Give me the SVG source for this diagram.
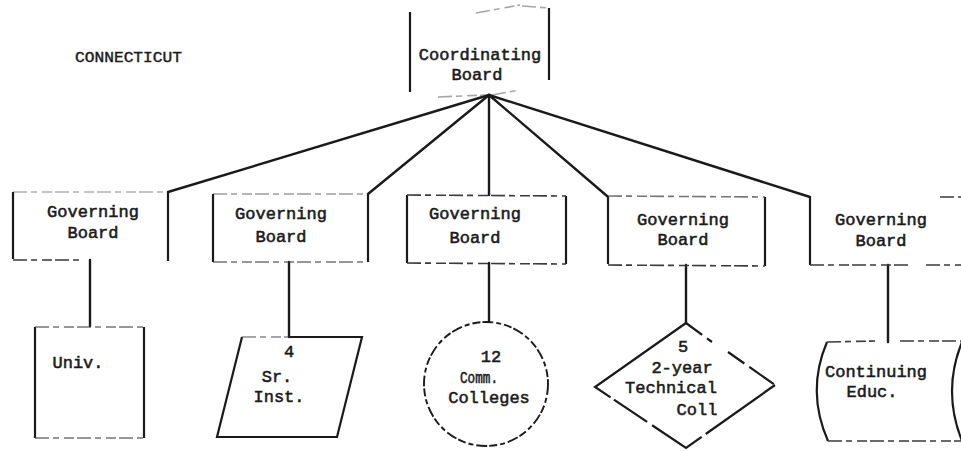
<svg xmlns="http://www.w3.org/2000/svg" width="961" height="451" viewBox="0 0 961 451">
  <style>
    .bg { fill: #ffffff; }
    .side { fill: none; stroke: #1a1a1a; stroke-width: 2.2; }
    .rule { fill: none; stroke: #3a3a3a; stroke-width: 1.6; stroke-dasharray: 14 4 6 5 10 3; }
    .conn { fill: none; stroke: #1a1a1a; stroke-width: 2.4; stroke-linecap: round; }
    .lbl { font-family: "Liberation Mono", "DejaVu Sans Mono", monospace; font-size: 17px; fill: #1a1a1a; stroke: #1a1a1a; stroke-width: 0.55; text-anchor: middle; }
    .ttl { font-family: "Liberation Mono", "DejaVu Sans Mono", monospace; font-size: 15px; fill: #1a1a1a; stroke: #1a1a1a; stroke-width: 0.4; }
  </style>

  <rect class="bg" x="0" y="0" width="961" height="451"/>

  <text class="ttl" x="75" y="62" textLength="107" lengthAdjust="spacingAndGlyphs">CONNECTICUT</text>

  <!-- connectors -->
  <g id="connectors">
    <line class="conn" x1="489" y1="95" x2="168" y2="192"/>
    <line class="conn" x1="489" y1="95" x2="368" y2="194"/>
    <line class="conn" x1="489" y1="95" x2="489" y2="195"/>
    <line class="conn" x1="489" y1="95" x2="607" y2="196"/>
    <line class="conn" x1="489" y1="95" x2="810" y2="197"/>
    <line class="conn" x1="90" y1="260" x2="90" y2="326"/>
    <line class="conn" x1="289" y1="262" x2="289" y2="337"/>
    <line class="conn" x1="489" y1="263" x2="489" y2="321"/>
    <line class="conn" x1="686" y1="265" x2="686" y2="323"/>
    <line class="conn" x1="888" y1="265" x2="888" y2="342"/>
  </g>

  <!-- top coordinating board -->
  <g id="coordinating-board">
    <line class="side" x1="410" y1="12" x2="410" y2="92"/>
    <line class="side" x1="549" y1="8" x2="549" y2="80"/>
    <path class="rule" d="M476 13 L520 5 M522 6 L549 8" stroke-opacity="0.45"/>
    <path class="rule" d="M438 97 L486 95 M492 95 L520 90" stroke-opacity="0.45"/>
    <text class="lbl" x="480" y="60">Coordinating</text>
    <text class="lbl" x="477" y="80">Board</text>
  </g>

  <!-- governing boards -->
  <g id="governing-board-1">
    <line class="side" x1="13" y1="192" x2="13" y2="259"/>
    <line class="side" x1="168" y1="192" x2="168" y2="261"/>
    <line class="rule" x1="13" y1="192" x2="168" y2="192" stroke-opacity="0.4"/>
    <line class="rule" x1="13" y1="260" x2="80" y2="260"/>
    <text class="lbl" x="93" y="217">Governing</text>
    <text class="lbl" x="93" y="238">Board</text>
  </g>

  <g id="governing-board-2">
    <line class="side" x1="213" y1="194" x2="213" y2="262"/>
    <line class="side" x1="368" y1="194" x2="368" y2="262"/>
    <line class="rule" x1="213" y1="194" x2="368" y2="194" stroke-opacity="0.5"/>
    <line class="rule" x1="213" y1="262" x2="368" y2="262" stroke-opacity="0.7"/>
    <text class="lbl" x="281" y="219">Governing</text>
    <text class="lbl" x="281" y="242">Board</text>
  </g>

  <g id="governing-board-3">
    <line class="side" x1="407" y1="195" x2="407" y2="263"/>
    <line class="side" x1="566" y1="196" x2="566" y2="264"/>
    <line class="rule" x1="407" y1="195" x2="566" y2="196"/>
    <line class="rule" x1="407" y1="263" x2="566" y2="264"/>
    <text class="lbl" x="475" y="219">Governing</text>
    <text class="lbl" x="475" y="243">Board</text>
  </g>

  <g id="governing-board-4">
    <line class="side" x1="608" y1="196" x2="608" y2="264"/>
    <line class="side" x1="765" y1="197" x2="765" y2="266"/>
    <line class="rule" x1="608" y1="196" x2="765" y2="197" stroke-opacity="0.7"/>
    <line class="rule" x1="608" y1="265" x2="765" y2="266"/>
    <text class="lbl" x="683" y="225">Governing</text>
    <text class="lbl" x="683" y="245">Board</text>
  </g>

  <g id="governing-board-5">
    <line class="side" x1="810" y1="197" x2="810" y2="265"/>
    <line class="rule" x1="940" y1="197" x2="961" y2="197"/>
    <path class="rule" d="M810 265 L910 265 M926 265 L961 265"/>
    <text class="lbl" x="881" y="225">Governing</text>
    <text class="lbl" x="881" y="246">Board</text>
  </g>

  <!-- institution shapes -->
  <g id="univ">
    <line class="side" x1="35" y1="327" x2="35" y2="438"/>
    <line class="side" x1="144" y1="327" x2="144" y2="438"/>
    <line class="rule" x1="35" y1="327" x2="144" y2="327" stroke-opacity="0.7"/>
    <line class="rule" x1="35" y1="438" x2="144" y2="438" stroke-opacity="0.7"/>
    <text class="lbl" x="78" y="368">Univ.</text>
  </g>

  <g id="senior-institutions">
    <path class="side" d="M242 337 L217 437 L337 437 L362 337 L289 337"/>
    <line class="rule" x1="242" y1="337" x2="289" y2="337" stroke-opacity="0.6"/>
    <text class="lbl" x="289" y="357">4</text>
    <text class="lbl" x="277" y="382">Sr.</text>
    <text class="lbl" x="279" y="402">Inst.</text>
  </g>

  <g id="community-colleges">
    <circle cx="486" cy="384" r="62" fill="none" stroke="#1a1a1a" stroke-width="1.9" stroke-dasharray="11 3 5 3 8 2"/>
    <text class="lbl" x="491" y="362">12</text>
    <text class="lbl" x="479" y="383" textLength="38" lengthAdjust="spacingAndGlyphs">Comm.</text>
    <text class="lbl" x="489" y="403">Colleges</text>
  </g>

  <g id="technical-colleges">
    <path class="side" d="M686 323 L595 387 L686 448 L775 385" stroke-dasharray="130 4 40 6 60 5 200"/>
    <path class="side" d="M686 323 L712 342 M728 352 L775 385" stroke-dasharray="20 6 30 4"/>
    <text class="lbl" x="683" y="352">5</text>
    <text class="lbl" x="682" y="373">2-year</text>
    <text class="lbl" x="671" y="393">Technical</text>
    <text class="lbl" x="697" y="415">Coll</text>
  </g>

  <g id="continuing-education">
    <path class="side" d="M827 342 Q806 391 828 441"/>
    <path class="side" d="M962 342 Q942 391 962 441"/>
    <path class="rule" d="M827 342 L875 341 M900 341 L961 341"/>
    <path class="rule" d="M828 441 L961 441"/>
    <text class="lbl" x="876" y="377">Continuing</text>
    <text class="lbl" x="872" y="397">Educ.</text>
  </g>
</svg>
